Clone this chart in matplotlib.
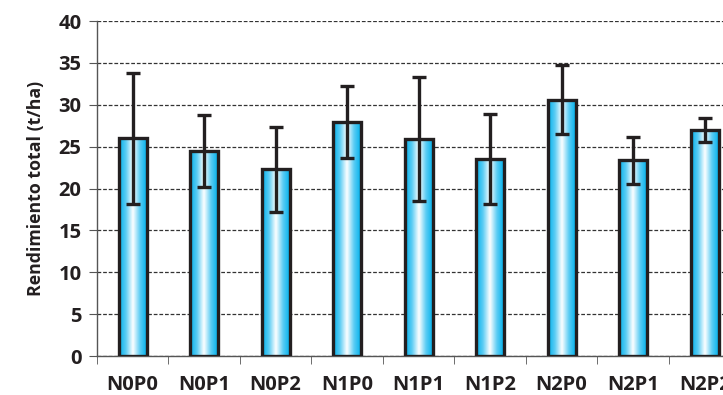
import matplotlib
matplotlib.use("Agg")
import matplotlib.pyplot as plt
import numpy as np
from matplotlib.colors import LinearSegmentedColormap

# Data
treatments = ['N0P0', 'N0P1', 'N0P2', 'N1P0', 'N1P1', 'N1P2', 'N2P0', 'N2P1', 'N2P2']
rendimiento = [26.0, 24.5, 22.3, 28.0, 25.9, 23.5, 30.6, 23.4, 27.0]
error = [7.8, 4.3, 5.1, 4.3, 7.4, 5.4, 4.1, 2.8, 1.4]

plt.rcParams['font.family'] = ['Open Sans', 'DejaVu Sans']

fig = plt.figure(figsize=(7.23, 3.95), dpi=100)
ax = fig.add_axes([0.134, 0.0987, 0.890, 0.848])

x = np.arange(len(treatments))
bars = ax.bar(x, rendimiento, width=0.39, color='none', edgecolor='#231f20',
              linewidth=2.4, zorder=3)

# horizontal cyan-white-cyan gradient inside each bar
cmap = LinearSegmentedColormap.from_list('cyan_grad',
    ['#00b0ec', '#5ccdf4', '#ffffff', '#5ccdf4', '#00b0ec'])
grad = np.linspace(0, 1, 256).reshape(1, -1)
for b in bars:
    x0, w, h = b.get_x(), b.get_width(), b.get_height()
    im = ax.imshow(grad, cmap=cmap, aspect='auto', extent=[x0, x0 + w, 0, h],
                   zorder=2.5, interpolation='bicubic')
    im.set_clip_path(b)

ax.errorbar(x, rendimiento, yerr=error, fmt='none', ecolor='#231f20',
            elinewidth=2.4, capsize=5, capthick=2.4, zorder=4)

ax.set_xlim(-0.5, len(treatments) - 0.5)
ax.set_ylim(0, 40)
ax.set_yticks(range(0, 41, 5))
ax.set_xticks(x)
ax.set_xticklabels(treatments)
ax.set_xticks(np.arange(-0.5, len(treatments), 1), minor=True)

ax.grid(axis='y', color='#333333', linestyle=(0, (3, 1.5)), linewidth=0.9, zorder=1)
ax.spines['top'].set_visible(False)
ax.spines['right'].set_visible(False)
ax.spines['left'].set_color('#555555')
ax.spines['bottom'].set_color('#555555')
ax.spines['left'].set_linewidth(1.0)
ax.spines['bottom'].set_linewidth(1.0)

ax.tick_params(axis='y', direction='out', length=6, color='#555555', labelsize=14.5, pad=5)
ax.tick_params(axis='x', which='major', length=0, labelsize=14.5, pad=14)
ax.tick_params(axis='x', which='minor', direction='out', length=6, color='#555555')
for lab in ax.get_xticklabels() + ax.get_yticklabels():
    lab.set_fontweight('bold')
    lab.set_color('#231f20')

ax.set_ylabel('Rendimiento total (t/ha)', fontsize=12.8, fontweight='bold',
              color='#231f20', labelpad=10)

fig.savefig('out.png', dpi=100)
